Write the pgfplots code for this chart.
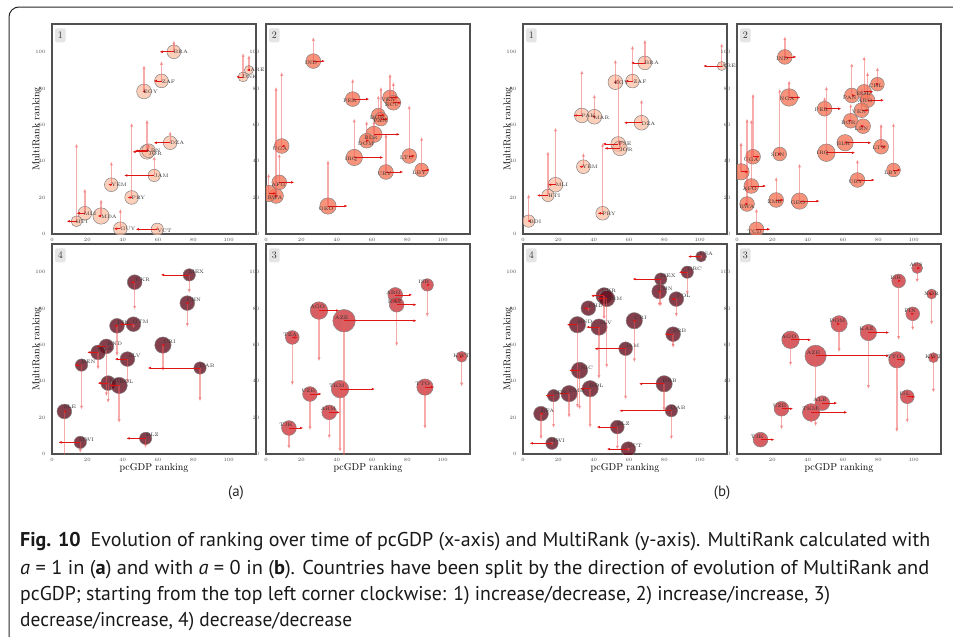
\documentclass[border=0pt]{standalone}
\usepackage{pgfplots}
\pgfplotsset{compat=1.18}
\usepackage{pgfplotstable}
\usepackage{graphicx}
\usepackage{fontspec}
\usetikzlibrary{arrows.meta}
\newfontfamily\capfont{PT Sans}

\definecolor{bubA}{RGB}{251,186,158}
\definecolor{bubB}{RGB}{245,120,90}
\definecolor{bubC}{RGB}{205,55,60}
\definecolor{bubD}{RGB}{100,15,30}
\definecolor{edge}{RGB}{130,130,130}
\definecolor{harrow}{RGB}{225,20,20}
\definecolor{varrow}{RGB}{240,90,90}
\definecolor{frame}{RGB}{80,80,80}

\pgfplotsset{
  panelbase/.style={
    scale only axis, width=204bp, height=210bp, anchor=south west,
    xmin=0, xmax=115.5, ymin=0, ymax=115.5,
    xtick={0,20,...,100}, ytick={0,20,...,100},
    major tick length=0pt,
    axis line style={draw=frame, line width=1.1bp},
    tick label style={font=\fontsize{4.5}{5}\selectfont, text=black!70},
    yticklabel style={xshift=-3bp},
    xticklabel style={yshift=-0.5bp},
    label style={font=\fontsize{8.5}{9}\selectfont, text=black!85},
    every axis y label/.style={at={(axis description cs:-0.074,0.5)}, rotate=90, anchor=center},
    every axis x label/.style={at={(axis description cs:0.5,-0.066)}, anchor=center},
    clip marker paths=true,
  },
  bubbles/.style 2 args={
    scatter, only marks, mark=*, line width=0.5bp,
    scatter/use mapped color={draw=edge, fill=#1, fill opacity=#2},
    visualization depends on={\thisrow{r}\as\bubrad},
    scatter/@pre marker code/.append style={/tikz/mark size=\bubrad},
  },
  hquiver/.style={
    quiver={u=\thisrow{hx}-\thisrow{x}, v=0,
      every arrow/.append style={-{Latex[length=3.2bp,width=2.6bp]}}},
    draw=harrow, line width=0.8bp,
  },
  vquiver/.style={
    quiver={u=0, v=\thisrow{vy}-\thisrow{y},
      every arrow/.append style={-{Latex[length=4bp,width=3.4bp]}}},
    draw=varrow, opacity=0.5, line width=1.3bp,
  },
  names/.style={
    only marks, mark=*, mark size=0pt, mark options={draw=none, fill=none},
    point meta=explicit symbolic, nodes near coords,
    nodes near coords style={font=\fontsize{5}{5}\selectfont, text=black!80, anchor=center, inner sep=0pt},
  },
}
\tikzset{numbox/.style={fill=black!10, rounded corners=1.5bp, minimum width=10.5bp,
  minimum height=14bp, inner sep=0pt, font=\fontsize{10}{10}\selectfont, text=black!80}}

% columns: start position, bubble radius, end of pcGDP arrow, end of MultiRank arrow, label position
\pgfplotstableread{
name x y r hx vy lx ly
BRA 69.0 100.2 6.9 60.9 106.6 72.9 100.2
DNK 108.2 86.4 5.0 104.2 99.6 112.0 86.2
ARE 111.5 90.2 4.5 110.2 98.5 116.3 90.2
ZAF 62.0 84.2 6.9 57.5 95.2 66.0 84.0
EGY 52.1 78.4 7.4 51.1 92.9 55.8 78.2
DZA 66.9 50.2 6.9 57.5 56.6 70.9 50.0
LBN 53.8 45.2 7.4 45.5 63.0 57.5 46.0
JOR 54.7 45.8 6.9 47.0 49.8 58.4 44.3
JAM 57.9 32.2 6.2 40.8 42.9 61.9 32.0
YEM 33.6 27.1 6.9 31.8 39.9 38.0 26.9
PRY 45.1 20.1 6.9 42.7 61.2 48.9 19.9
MLI 18.6 11.4 6.9 13.9 25.1 21.6 11.0
HTI 13.9 7.0 5.5 8.3 49.8 16.9 6.6
MDA 27.8 9.9 8.2 25.8 19.2 32.3 9.7
GUY 38.7 2.9 6.9 35.0 13.9 43.0 2.7
VCT 59.6 2.6 6.2 47.4 4.5 63.7 1.9
}\tabAone

\pgfplotstableread{
name x y r hx vy lx ly
IND 26.8 95.1 7.4 33.4 108.4 25.5 94.1
PER 49.1 74.2 7.4 58.5 85.5 47.5 73.3
VEN 70.2 75.1 7.4 74.9 88.3 69.2 74.0
ECU 72.1 72.2 7.4 76.8 83.7 71.3 70.9
BGR 63.6 65.4 6.9 67.4 76.4 63.0 64.1
PAN 65.1 63.2 6.9 69.2 81.0 64.7 62.3
BLR 61.1 54.8 8.2 75.8 62.6 59.4 53.1
DOM 57.0 51.3 7.4 58.5 62.3 56.6 49.8
IRQ 50.0 42.1 8.2 66.4 63.6 48.1 41.0
URY 67.9 34.1 7.4 77.7 55.3 67.0 33.0
LTU 81.1 42.9 7.4 84.3 70.9 79.6 42.1
LBY 88.1 35.2 6.9 92.8 53.5 86.8 33.9
UGA 8.9 48.4 7.4 11.3 89.2 7.9 47.1
AFG 7.5 28.4 7.4 16.0 44.3 7.0 27.1
RWA 5.7 20.9 7.4 7.0 81.0 5.1 20.0
{} 1.5 22.3 8.2 6.0 33.3 1.5 22.3
GEO 35.1 15.4 8.2 46.2 40.7 34.0 14.1
}\tabAtwo

\pgfplotstableread{
name x y r hx vy lx ly
ISR 91.3 93.0 6.2 93.0 75.3 89.4 94.9
ARG 73.2 87.5 7.4 82.8 85.5 72.1 88.8
KAZ 74.0 82.1 7.4 85.3 59.2 73.0 83.9
AGO 30.0 78.9 8.8 41.5 50.9 29.2 80.8
AZE 44.2 73.3 11.3 85.3 -5.0 42.8 74.7
TZA 14.9 64.1 6.9 17.9 37.7 13.6 65.6
TKM 41.9 35.7 8.8 61.7 1.1 40.0 37.5
TTO 90.0 36.8 8.2 95.1 13.7 88.7 38.6
UZB 24.9 33.0 7.4 31.5 13.0 24.0 34.8
ARM 35.8 22.9 7.4 41.9 8.4 35.3 24.7
TJK 13.0 14.3 7.4 21.1 2.7 11.3 15.9
KWT 110.8 53.5 5.5 111.6 37.0 110.8 54.0
}\tabAthree

\pgfplotstableread{
name x y r hx vy lx ly
MEX 77.7 98.5 6.2 61.6 88.5 81.8 100.0
UKR 46.8 94.5 7.4 44.4 79.3 51.3 95.8
CHN 76.6 83.0 7.4 75.4 69.8 80.3 84.6
GTM 46.1 71.4 7.4 38.3 68.7 50.2 72.7
PHL 36.8 70.5 7.4 35.0 53.7 40.8 72.2
HND 30.8 59.2 7.4 25.2 31.7 35.5 60.6
NGA 26.1 55.9 7.4 19.9 46.3 30.1 57.7
SLV 42.7 52.2 7.4 35.5 39.0 46.8 53.8
BEN 16.7 48.9 6.2 12.6 24.4 20.7 50.5
CRI 62.8 59.9 8.2 61.8 45.4 66.6 61.8
GAB 83.8 47.3 6.2 54.2 28.9 87.8 48.7
NIC 31.8 39.0 7.4 25.8 28.0 35.9 40.3
BOL 38.0 37.7 8.2 32.3 17.0 42.1 39.9
SLE 7.0 23.4 7.4 6.2 -3.0 10.2 25.8
BLZ 53.0 8.6 6.2 42.1 3.3 56.8 10.6
MWI 16.0 6.4 6.2 3.6 0.5 19.5 7.7
}\tabAfour

\pgfplotstableread{
name x y r hx vy lx ly
BRA 69.0 94.1 6.9 61.1 107.0 72.9 94.0
ZAF 62.0 84.1 6.9 57.7 103.8 66.2 84.0
EGY 52.3 83.5 7.4 51.1 96.0 55.8 83.3
PAK 33.3 65.2 7.4 28.6 90.1 37.0 65.0
MAR 40.4 64.5 7.4 38.9 76.9 44.5 64.1
DZA 67.1 61.2 7.4 57.1 74.0 70.9 60.9
PSE 53.9 49.5 7.4 45.1 86.0 57.7 49.7
JOR 54.9 47.1 7.4 46.1 52.0 58.3 46.3
YEM 34.2 37.0 6.9 31.8 44.7 38.0 37.0
MLI 18.4 27.1 7.4 14.1 58.6 22.0 27.1
HTI 14.1 21.2 6.2 7.9 45.6 17.7 21.0
BDI 3.2 7.1 6.2 2.4 22.0 7.0 6.8
PRY 45.1 11.4 6.9 42.3 50.2 48.7 11.2
ARE 112.5 92.4 4.5 102.0 105.0 116.5 92.4
}\tabBone

\pgfplotstableread{
name x y r hx vy lx ly
IND 27.1 97.4 7.4 33.7 108.8 25.6 96.2
NGA 29.5 75.1 8.8 36.0 84.6 28.4 74.2
SDN 24.2 44.0 6.9 25.2 80.0 23.1 43.4
PER 49.6 68.9 7.4 59.1 75.5 47.9 68.1
IRQ 50.6 44.7 8.8 66.9 81.3 48.5 44.3
BLR 61.2 50.2 8.2 76.1 52.0 60.2 49.8
PAN 65.0 76.2 7.4 67.0 94.1 63.8 75.1
BOL 72.0 78.2 7.4 77.3 97.8 71.6 77.3
ARG 73.9 73.6 7.4 83.3 89.2 72.5 73.1
CHL 79.5 82.4 6.9 80.5 91.9 78.6 81.5
VEN 70.5 68.1 7.4 75.0 80.0 69.1 67.0
BGR 64.4 62.3 7.4 65.0 71.8 63.1 61.2
LBN 71.4 59.3 7.4 72.0 61.0 70.5 58.1
LTU 81.6 48.0 7.4 84.6 60.8 80.5 47.3
LBY 88.6 35.2 6.9 92.8 61.2 87.1 33.9
URY 68.2 29.7 7.4 78.0 41.0 67.2 28.6
UGA 9.1 42.5 7.4 12.9 77.3 8.0 41.0
{} 2.3 34.2 8.2 6.6 50.7 2.3 34.2
AFG 8.1 26.4 7.4 16.5 63.0 7.2 24.9
RWA 5.7 16.5 7.4 6.5 63.6 5.7 15.0
ZMB 22.2 18.7 7.4 26.5 31.5 21.4 17.8
GEO 35.4 18.1 8.2 46.8 38.8 34.5 17.0
TCD 11.0 2.6 7.4 18.9 14.1 10.0 1.3
}\tabBtwo

\pgfplotstableread{
name x y r hx vy lx ly
AUS 102.0 102.3 5.5 104.0 94.2 101.3 104.0
ISR 91.5 95.2 6.9 93.0 62.6 90.0 96.7
NOR 110.2 88.0 5.0 110.8 71.0 110.2 88.2
FIN 99.5 77.1 6.9 100.5 67.9 98.0 78.6
KWT 111.2 53.0 5.0 111.8 33.7 111.2 53.2
ISL 96.4 31.5 6.9 100.8 17.1 95.0 33.0
TTO 90.5 51.8 8.2 95.1 11.9 89.0 53.7
DOM 57.8 71.6 8.2 58.5 55.9 56.8 73.4
KAZ 74.4 66.8 8.2 86.2 35.7 73.3 68.7
AGO 30.3 62.8 8.8 42.0 48.5 29.4 64.7
AZE 44.5 54.0 10.7 86.2 15.2 43.2 55.5
ALB 48.3 28.0 7.4 56.8 24.0 47.0 29.9
TKM 42.0 22.9 8.8 62.5 16.7 41.3 24.7
UZB 25.2 24.9 7.4 31.8 13.4 24.1 26.7
TJK 13.3 7.9 7.4 21.2 6.5 11.4 9.3
}\tabBthree

\pgfplotstableread{
name x y r hx vy lx ly
USA 100.8 108.6 5.5 93.4 107.0 103.8 110.1
GRC 93.0 100.0 6.2 88.2 87.5 97.2 101.6
MEX 78.0 96.2 6.2 62.0 81.1 82.1 98.0
CHN 77.1 89.4 7.4 76.0 81.1 80.6 90.8
POL 86.8 85.2 7.4 84.0 75.3 91.0 86.8
UKR 45.9 87.0 8.2 38.5 73.8 48.6 89.6
ARM 47.4 85.5 8.2 42.0 47.3 51.8 85.6
PHL 37.0 80.2 7.4 34.2 78.0 41.0 81.7
SLV 43.0 69.8 8.2 35.7 41.2 47.0 72.0
HND 30.8 71.1 8.2 24.8 25.3 35.2 72.9
CRI 63.0 73.3 8.2 62.0 50.4 66.5 75.1
SRB 85.0 65.9 7.4 80.3 58.2 88.7 67.8
JAM 58.1 57.9 6.9 40.4 29.9 61.8 59.5
NIC 32.0 46.0 8.2 26.1 24.4 36.1 47.6
BOL 38.0 35.9 8.2 32.3 14.3 41.7 37.5
GAB 84.0 23.8 6.2 54.5 7.9 87.8 25.3
BRB 79.9 38.6 8.2 65.6 23.4 83.1 40.5
CMR 26.1 33.2 8.2 20.5 19.8 30.5 35.0
SEN 17.3 32.1 6.2 12.6 14.3 21.1 33.9
BFA 10.2 22.2 7.4 9.5 7.9 13.9 23.6
MWI 16.4 5.9 6.2 3.8 4.5 19.5 7.5
BLZ 53.4 14.8 6.9 41.7 2.4 56.8 16.7
VCT 59.6 2.7 7.4 47.4 1.0 63.3 4.6
}\tabBfour

% #1,#2 lower-left corner (bp), #3 table, #4 bubble colour, #5 opacity, #6 panel number, #7 extra axis options
\newcommand\panel[7]{%
  \begin{axis}[panelbase, at={(#1bp,#2bp)}, #7]
    \addplot[bubbles={#4}{#5}] table[x=x,y=y]{#3};
    \addplot[vquiver] table[x=x,y=y]{#3};
    \addplot[hquiver] table[x=x,y=y]{#3};
  \end{axis}
  \begin{axis}[panelbase, at={(#1bp,#2bp)}, hide axis, clip=false]
    \addplot[names] table[x=lx,y=ly,meta=name]{#3};
    \node[numbox] at (rel axis cs:0.041,0.946) {#6};
  \end{axis}}

\begin{document}
\begin{tikzpicture}
\path[use as bounding box] (0,0) rectangle (953bp,-637bp);
\draw[line width=1bp, black!85, rounded corners=10bp] (9bp,-7bp) rectangle (990bp,-690bp);

% (a): MultiRank with a = 1
\panel{52}{-234}{\tabAone}{bubA}{0.7}{1}{ylabel={MultiRank ranking}}
\panel{266}{-234}{\tabAtwo}{bubB}{0.8}{2}{}
\panel{52}{-454}{\tabAfour}{bubD}{0.8}{4}{ylabel={MultiRank ranking}, xlabel={pcGDP ranking}}
\panel{266}{-454}{\tabAthree}{bubC}{0.8}{3}{xlabel={pcGDP ranking}}

% (b): MultiRank with a = 0
\panel{523}{-234}{\tabBone}{bubA}{0.7}{1}{ylabel={MultiRank ranking}}
\panel{737}{-234}{\tabBtwo}{bubB}{0.8}{2}{}
\panel{523}{-454}{\tabBfour}{bubD}{0.8}{4}{ylabel={MultiRank ranking}, xlabel={pcGDP ranking}}
\panel{737}{-454}{\tabBthree}{bubC}{0.8}{3}{xlabel={pcGDP ranking}}

\node[font=\capfont\fontsize{15}{15}\selectfont, text=black!85] at (236bp,-493bp) {(a)};
\node[font=\capfont\fontsize{15}{15}\selectfont, text=black!85] at (722bp,-493bp) {(b)};

\begin{scope}[every node/.style={anchor=base west, inner sep=0pt, text=black!90,
    font=\capfont\fontsize{20}{24}\selectfont}]
\node at (20bp,-546bp) {\resizebox{910bp}{\height}{\textbf{Fig. 10}\enspace Evolution of ranking over time of pcGDP (x-axis) and MultiRank (y-axis). MultiRank calculated with}};
\node at (20bp,-574bp) {\resizebox{909bp}{\height}{\textit{a} = 1 in (\textbf{a}) and with \textit{a} = 0 in (\textbf{b}). Countries have been split by the direction of evolution of MultiRank and}};
\node at (20bp,-600bp) {\resizebox{810bp}{\height}{pcGDP; starting from the top left corner clockwise: 1) increase/decrease, 2) increase/increase, 3)}};
\node at (20bp,-626bp) {\resizebox{332bp}{\height}{decrease/increase, 4) decrease/decrease}};
\end{scope}
\end{tikzpicture}
\end{document}
